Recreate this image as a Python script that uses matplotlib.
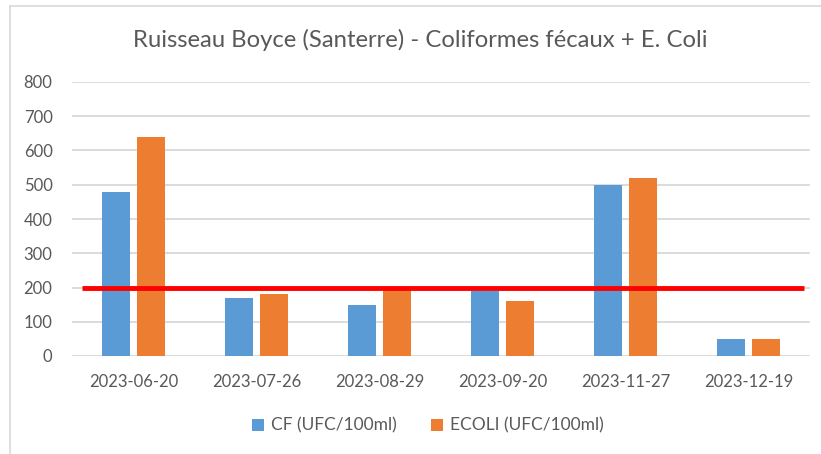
import numpy as np
import matplotlib.pyplot as plt
from matplotlib.lines import Line2D

dates = ["2023-06-20", "2023-07-26", "2023-08-29", "2023-09-20", "2023-11-27", "2023-12-19"]
cf = [480, 170, 150, 190, 500, 50]
ecoli = [640, 180, 200, 160, 520, 50]
seuil = 200

plt.rcParams['font.family'] = ['Lato', 'DejaVu Sans']
grey = '#595959'

fig = plt.figure(figsize=(8.21, 4.54), dpi=100)
ax = fig.add_axes([72 / 821, 1 - 356 / 454, 738 / 821, 274 / 454])

x = np.arange(len(dates))
w = 0.23
ax.bar(x - 0.145, cf, w, color='#5B9BD5', label='CF (UFC/100ml)', zorder=2)
ax.bar(x + 0.145, ecoli, w, color='#ED7D31', label='ECOLI (UFC/100ml)', zorder=2)
ax.hlines(seuil, -0.42, 5.45, color='#FF0000', linewidth=3.5, zorder=3)

ax.set_xlim(-0.5, len(dates) - 0.5)
ax.set_ylim(0, 800)
ax.set_yticks(range(0, 801, 100))
ax.set_xticks(x)
ax.set_xticklabels(dates)
ax.grid(axis='y', color='#D9D9D9', linewidth=1.3, zorder=0)
for s in ax.spines.values():
    s.set_visible(False)
ax.tick_params(axis='both', length=0, colors=grey, labelsize=12)
ax.tick_params(axis='x', pad=13)
ax.tick_params(axis='y', pad=14)

fig.text(0.5 + 0.012, 1 - 40 / 454, "Ruisseau Boyce (Santerre) - Coliformes fécaux + E. Coli",
         ha='center', va='center', fontsize=17.2, color=grey)

ax.legend(loc='center', bbox_to_anchor=(0.5 - 0.018, -0.255), ncol=2, frameon=False,
          fontsize=12.5, labelcolor=grey, handlelength=0.7, handleheight=0.7,
          handletextpad=0.4, columnspacing=2.0)

# chart frame (only left and top visible)
fig.add_artist(Line2D([10 / 821, 10 / 821], [0, 1 - 6 / 454], transform=fig.transFigure,
                      color='#D9D9D9', linewidth=1.2))
fig.add_artist(Line2D([10 / 821, 1], [1 - 6 / 454, 1 - 6 / 454], transform=fig.transFigure,
                      color='#D9D9D9', linewidth=1.2))

plt.savefig("out.png")
